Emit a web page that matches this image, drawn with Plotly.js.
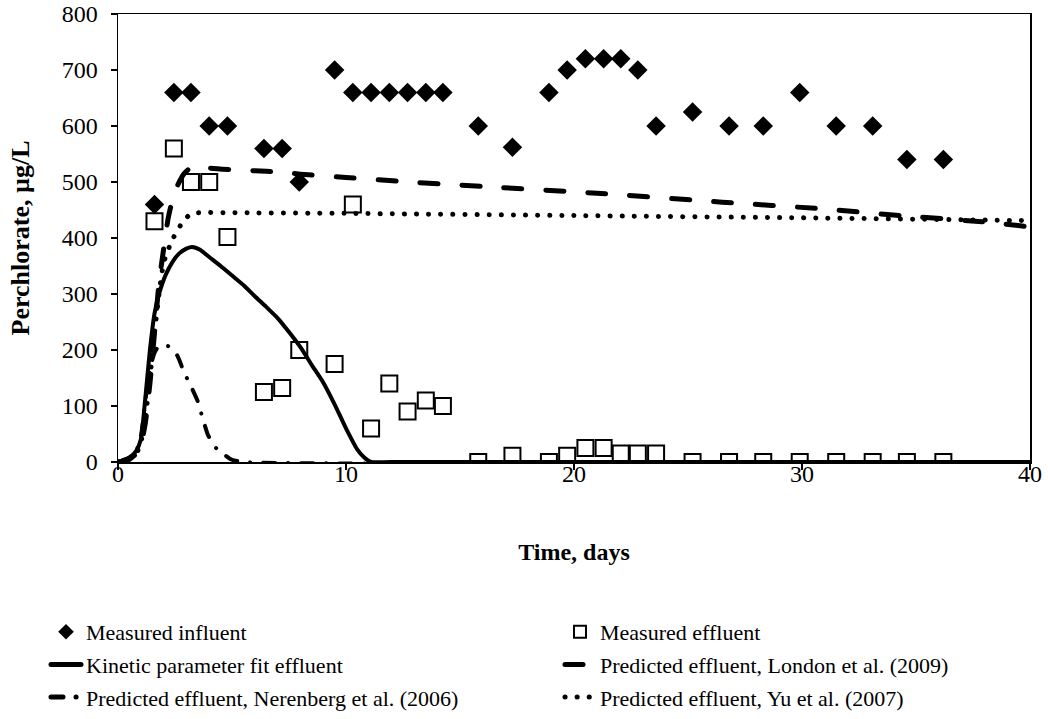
<!DOCTYPE html>
<html>
<head>
<meta charset="utf-8">
<script src="https://cdn.plot.ly/plotly-3.0.1.min.js"></script>
<style>
  html, body { margin: 0; padding: 0; background: #fff; }
  #chart { width: 1048px; height: 719px; }
  /* rounded ends give the dotted and dashed curves soft dots and dashes */
  #chart path.js-line { stroke-linecap: round; }
</style>
</head>
<body>
<div id="chart"></div>
<script>
// Sampling days shared by the influent and effluent measurements
const sampleDays = [1.6, 2.45, 3.2, 4.0, 4.8, 6.4, 7.2, 7.95, 9.5, 10.3, 11.1, 11.9, 12.7, 13.5, 14.25,
  15.8, 17.3, 18.9, 19.7, 20.5, 21.3, 22.05, 22.8, 23.6, 25.2, 26.8, 28.3, 29.9, 31.5, 33.1, 34.6, 36.2];

// Measured perchlorate, µg/L
const influent = [460, 660, 660, 600, 600, 560, 560, 500, 700, 660, 660, 660, 660, 660, 660,
  600, 562, 660, 700, 720, 720, 720, 700, 600, 625, 600, 600, 660, 600, 600, 540, 540];
const effluent = [430, 560, 500, 500, 402, 125, 132, 200, 175, 460, 60, 140, 90, 110, 100,
  0, 11, 0, 11, 25, 25, 15, 15, 15, 0, 0, 0, 0, 0, 0, 0, 0];

// Kinetic parameter fit effluent
const kineticT = [0, 0.5, 0.8, 1.0, 1.2, 1.4, 1.6, 1.8, 2.1, 2.4, 2.7, 3.0, 3.25, 3.6, 4.0, 4.5, 5.0,
  5.5, 6.0, 6.5, 7.0, 7.5, 8.0, 8.5, 9.0, 9.5, 10.0, 10.5, 10.8, 11.1, 12, 40];
const kineticC = [0, 8, 20, 40, 115, 200, 265, 300, 335, 358, 373, 381, 384, 379, 366, 350, 333,
  316, 296, 277, 257, 232, 205, 173, 142, 103, 60, 22, 8, 0, 0, 0];

// Predicted effluent, London et al. (2009)
const londonT = [0, 0.5, 0.8, 1.0, 1.2, 1.4, 1.6, 1.8, 2.0, 2.2, 2.4, 2.6, 2.9, 3.2, 3.5, 4.0, 5.0,
  6.0, 7.0, 8.0, 10.0, 12.8, 16.4, 21.0, 26.5, 30.9, 34.3, 37.9, 40];
const londonC = [0, 5, 15, 30, 70, 140, 230, 320, 380, 435, 470, 493, 515, 526, 529, 525, 522,
  520, 518, 514, 508, 500, 491, 480, 464, 452, 440, 429, 420];

// Predicted effluent, Nerenberg et al. (2006)
const nerenbergT = [0, 0.5, 0.8, 1.0, 1.2, 1.4, 1.6, 1.8, 2.0, 2.3, 2.6, 2.9, 3.2, 3.5, 3.7, 3.95,
  4.3, 4.7, 5.0, 5.5, 40];
const nerenbergC = [0, 8, 20, 45, 110, 165, 195, 207, 209, 205, 190, 160, 135, 108, 80, 48,
  25, 12, 4, 0, 0];

// Predicted effluent, Yu et al. (2007)
const yuT = [0, 0.5, 0.8, 1.0, 1.2, 1.4, 1.6, 1.8, 2.0, 2.25, 2.45, 2.75, 3.1, 3.5, 5, 10, 20, 30, 40];
const yuC = [0, 5, 15, 35, 80, 150, 230, 300, 355, 384, 402, 423, 440, 445, 445, 444, 440, 436, 431];

const FONT = 'Liberation Serif, Times New Roman, serif';

const traces = [
  {
    x: sampleDays, y: influent, name: 'Measured influent', type: 'scatter', mode: 'markers',
    marker: { symbol: 'diamond', size: 15, color: '#000' }, legend: 'legend', legendgroup: 'a'
  },
  {
    x: sampleDays, y: effluent, name: 'Measured effluent', type: 'scatter', mode: 'markers',
    marker: { symbol: 'square-open', size: 16, color: '#000', line: { width: 2, color: '#000' } },
    legend: 'legend2', legendgroup: 'b'
  },
  {
    x: kineticT, y: kineticC, name: 'Kinetic parameter fit effluent', type: 'scatter', mode: 'lines',
    line: { color: '#000', width: 4, shape: 'spline', smoothing: 0.6 }, legend: 'legend', legendgroup: 'c'
  },
  {
    x: londonT, y: londonC, name: 'Predicted effluent, London et al. (2009)', type: 'scatter', mode: 'lines',
    line: { color: '#000', width: 5, dash: '18px,24px', shape: 'spline', smoothing: 0.6 },
    legend: 'legend2', legendgroup: 'd'
  },
  {
    x: nerenbergT, y: nerenbergC, name: 'Predicted effluent, Nerenberg et al. (2006)', type: 'scatter',
    mode: 'lines', line: { color: '#000', width: 4, dash: '12px,13px,0.1px,13px', shape: 'spline', smoothing: 0.6 },
    legend: 'legend', legendgroup: 'e'
  },
  {
    x: yuT, y: yuC, name: 'Predicted effluent, Yu et al. (2007)', type: 'scatter', mode: 'lines',
    line: { color: '#000', width: 5, dash: '0.1px,12px', shape: 'spline', smoothing: 0.6 },
    legend: 'legend2', legendgroup: 'f'
  }
];

const axisCommon = {
  showgrid: false, zeroline: false, showline: true, mirror: true,
  linecolor: '#000', linewidth: 1.5, ticks: 'outside', ticklen: 6, tickwidth: 1.5, tickcolor: '#000',
  tickfont: { family: FONT, size: 24, color: '#000' }, automargin: false
};

// Plot area spans 912 x 448 px; legend positions below are in plot fractions
const legendCommon = {
  xanchor: 'left', yanchor: 'top',
  orientation: 'v', bgcolor: 'rgba(0,0,0,0)', borderwidth: 0, tracegroupgap: 1,
  itemsizing: 'constant', font: { family: FONT, size: 22, color: '#000' }
};

const layout = {
  width: 1048, height: 719,
  margin: { l: 118, r: 18, t: 14, b: 257, autoexpand: false },
  paper_bgcolor: '#fff', plot_bgcolor: '#fff',
  font: { family: FONT, color: '#000' },
  showlegend: true,
  xaxis: Object.assign({}, axisCommon, {
    range: [0, 40], tick0: 0, dtick: 10, ticklabelstandoff: -16,
    title: { text: '<b>Time, days</b>', font: { family: FONT, size: 24, color: '#000' }, standoff: 57 }
  }),
  yaxis: Object.assign({}, axisCommon, {
    range: [0, 800], tick0: 0, dtick: 100, ticklabelstandoff: 8,
    title: { text: '<b>Perchlorate, µg/L</b>', font: { family: FONT, size: 26, color: '#000' }, standoff: 24 }
  }),
  legend: Object.assign({}, legendCommon, { x: (46 - 118) / 912, y: (462 - 611) / 448 }),
  legend2: Object.assign({}, legendCommon, { x: (560 - 118) / 912, y: (462 - 611) / 448 })
};

Plotly.newPlot('chart', traces, layout, { displayModeBar: false, staticPlot: true });
</script>
</body>
</html>
